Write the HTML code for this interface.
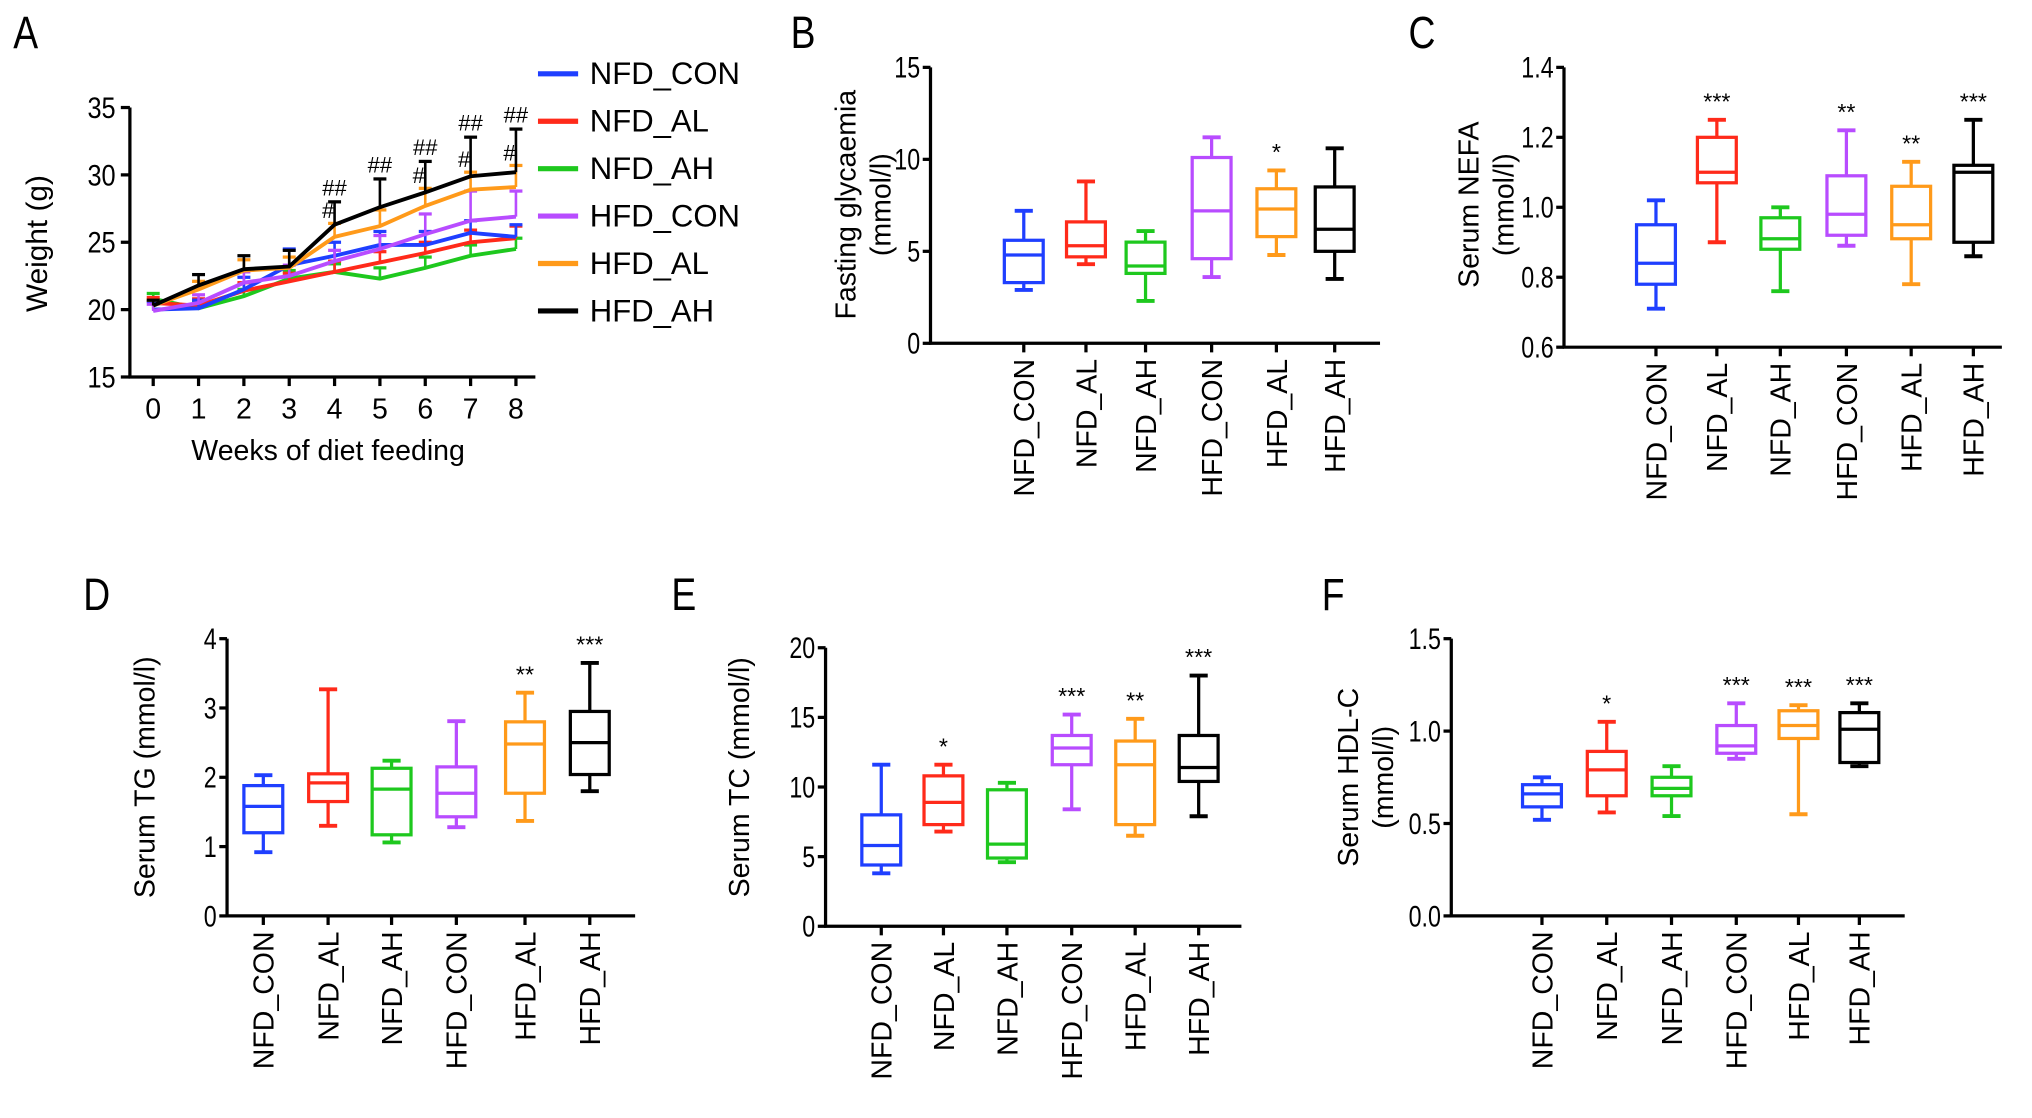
<!DOCTYPE html>
<html><head><meta charset="utf-8"><style>
html,body{margin:0;padding:0;background:#fff}
svg{display:block;font-family:"Liberation Sans",Arial,sans-serif}
</style></head><body>
<svg id="fig" width="2032" height="1118" viewBox="0 0 1568 863" xmlns="http://www.w3.org/2000/svg"></svg>
<script>
// ---------- Panel A data ----------
const weeks = [0,1,2,3,4,5,6,7,8];
const groupNames = ["NFD_CON","NFD_AL","NFD_AH","HFD_CON","HFD_AL","HFD_AH"];
const groupColors = ["#1f3fff","#ff2a1a","#1ec81e","#b84cff","#ff9a1a","#000000"];
const wNFD_CON = [20.0,20.1,21.5,23.3,24.0,24.8,24.8,25.7,25.4];
const wNFD_AL  = [20.5,20.3,21.4,22.1,22.8,23.5,24.2,25.0,25.3];
const wNFD_AH  = [20.8,20.1,21.0,22.3,22.8,22.3,23.1,24.0,24.5];
const wHFD_CON = [19.9,20.5,22.0,22.5,23.6,24.5,25.6,26.6,26.9];
const wHFD_AL  = [20.3,21.5,22.9,23.1,25.4,26.2,27.7,28.9,29.1];
const wHFD_AH  = [20.3,21.8,23.0,23.2,26.3,27.6,28.7,29.9,30.2];
const sdNFD_CON = [0.6,0.6,0.9,1.2,1.0,1.0,1.0,0.9,0.9];
const sdNFD_AL  = [0.4,0.5,0.6,0.6,0.8,0.8,0.8,0.9,0.9];
const sdNFD_AH  = [0.4,0.5,0.5,0.6,0.6,0.8,0.8,0.8,0.8];
const sdHFD_CON = [0.5,0.6,0.8,0.8,0.8,1.0,1.5,2.2,1.9];
const sdHFD_AL  = [0.4,0.6,0.8,0.8,1.0,1.2,1.3,1.3,1.6];
const sdHFD_AH  = [0.4,0.8,1.0,1.2,1.7,2.1,2.3,2.9,3.2];
const hashDouble = [4,5,6,7,8];
const hashSingle = [4,6,7,8];
const aTicks = [15,20,25,30,35];

// ---------- Box panels data: [min,q1,median,q3,max] ----------
const cats = ["NFD_CON","NFD_AL","NFD_AH","HFD_CON","HFD_AL","HFD_AH"];
const bBoxes = [[2.9,3.3,4.8,5.6,7.2],[4.3,4.7,5.3,6.6,8.8],[2.3,3.8,4.2,5.5,6.1],[3.6,4.6,7.2,10.1,11.2],[4.8,5.8,7.3,8.4,9.4],[3.5,5.0,6.2,8.5,10.6]];
const bStars = ["","","","","*",""];
const bTicks = ["0","5","10","15"];
const cBoxes = [[0.71,0.78,0.84,0.95,1.02],[0.90,1.07,1.10,1.20,1.25],[0.76,0.88,0.91,0.97,1.00],[0.89,0.92,0.98,1.09,1.22],[0.78,0.91,0.95,1.06,1.13],[0.86,0.90,1.10,1.12,1.25]];
const cStars = ["","***","","**","**","***"];
const cTicks = ["0.6","0.8","1.0","1.2","1.4"];
const dBoxes = [[0.92,1.2,1.58,1.88,2.03],[1.3,1.65,1.92,2.05,3.27],[1.06,1.17,1.83,2.13,2.24],[1.28,1.43,1.77,2.15,2.81],[1.37,1.77,2.48,2.8,3.22],[1.8,2.04,2.5,2.95,3.65]];
const dStars = ["","","","","**","***"];
const dTicks = ["0","1","2","3","4"];
const eBoxes = [[3.8,4.4,5.8,8.0,11.6],[6.8,7.3,8.9,10.8,11.6],[4.6,4.9,5.9,9.8,10.3],[8.4,11.6,12.8,13.7,15.2],[6.5,7.3,11.6,13.3,14.9],[7.9,10.4,11.4,13.7,18.0]];
const eStars = ["","*","","***","**","***"];
const eTicks = ["0","5","10","15","20"];
const fBoxes = [[0.52,0.59,0.66,0.71,0.75],[0.56,0.65,0.79,0.89,1.05],[0.54,0.65,0.69,0.75,0.81],[0.85,0.88,0.92,1.03,1.15],[0.55,0.96,1.03,1.11,1.14],[0.81,0.83,1.01,1.10,1.15]];
const fStars = ["","*","","***","***","***"];
const fTicks = ["0.0","0.5","1.0","1.5"];

const NS="http://www.w3.org/2000/svg";
const svg=document.getElementById('fig');
function mk(tag,attrs,parent,text){const e=document.createElementNS(NS,tag);for(const k in attrs)e.setAttribute(k,attrs[k]);if(text!==undefined)e.textContent=text;(parent||svg).appendChild(e);return e;}
function line(p,x1,y1,x2,y2,c,w){return mk('line',{x1,y1,x2,y2,stroke:c,'stroke-width':w||2.5},p);}

// ---------- Panel A ----------
(function(){
  const g=mk('g',{});  
  const x=w=>118+w*35, y=v=>239-(v-20)*10.4;
  const t=mk('text',{x:0,y:0,'font-size':32,transform:'translate(10,37) scale(0.9,1.1)'},g,'A');  
  line(g,100,y(35),100,y(15)+1,'#000',2.5); line(g,99,y(15),413,y(15),'#000',2.5);
  aTicks.forEach(v=>{line(g,93,y(v),100,y(v),'#000',2.5);const tt=mk('text',{x:0,y:0,'font-size':23,'text-anchor':'end',transform:`translate(89,${y(v)+8}) scale(0.85,1)`},g,v);});
  weeks.forEach(w=>{line(g,x(w),y(15),x(w),y(15)+7,'#000',2.5);const tt=mk('text',{x:x(w),y:323,'font-size':22,'text-anchor':'middle'},g,w);});
  const xt=mk('text',{x:253,y:355,'font-size':22,'text-anchor':'middle'},g,'Weeks of diet feeding');  
  const yt=mk('text',{x:0,y:0,'font-size':23,'text-anchor':'middle',transform:'translate(36,188) rotate(-90)'},g,'Weight (g)');  
  const series=[wNFD_CON,wNFD_AL,wNFD_AH,wHFD_CON,wHFD_AL,wHFD_AH];
  const sds=[sdNFD_CON,sdNFD_AL,sdNFD_AH,sdHFD_CON,sdHFD_AL,sdHFD_AH];
  [2,1,0,3,4,5].forEach(i=>{
    const c=groupColors[i];
    const sg=mk('g',{},g);  
    series[i].forEach((v,k)=>{const top=v+sds[i][k];line(sg,x(weeks[k]),y(v),x(weeks[k]),y(top),c,2);line(sg,x(weeks[k])-5,y(top),x(weeks[k])+5,y(top),c,2.5);});
    const pl=mk('polyline',{points:series[i].map((v,k)=>x(weeks[k])+','+y(v)).join(' '),fill:'none',stroke:c,'stroke-width':3},sg);
     
  });
  hashDouble.forEach(w=>{const k=weeks.indexOf(w);const top=wHFD_AH[k]+sdHFD_AH[k];const tt=mk('text',{x:x(w),y:y(top)-5,'font-size':17,'text-anchor':'middle'},g,'##');});
  hashSingle.forEach(w=>{const k=weeks.indexOf(w);const top=wHFD_AL[k]+sdHFD_AL[k];const tt=mk('text',{x:x(w)-5,y:y(top)-4,'font-size':17,'text-anchor':'middle'},g,'#');});
  groupNames.forEach((n,i)=>{const ly=57+i*36.6;const lg=mk('g',{},g);
    line(lg,415,ly,446,ly,groupColors[i],4);mk('text',{x:455,y:ly+8,'font-size':24},lg,n);});
})();

// ---------- Box panels ----------
function boxPanel(o){
  const g=mk('g',{});  
  const y=v=>o.y0-(v-o.vmin)/(o.vmax-o.vmin)*(o.y0-o.y1);
  const t=mk('text',{x:0,y:0,'font-size':32,transform:`translate(${o.lx},${o.ly}) scale(0.9,1.1)`},g,o.letter);  
  line(g,o.ax,o.y1,o.ax,o.y0+1,'#000',2.5); line(g,o.ax-1,o.y0,o.right,o.y0,'#000',2.5);
  o.ticks.forEach(s=>{const v=parseFloat(s);line(g,o.ax-6,y(v),o.ax,y(v),'#000',2.5);const tt=mk('text',{x:0,y:0,'font-size':23,'text-anchor':'end',transform:`translate(${o.ax-8},${y(v)+8}) scale(0.78,1)`},g,s);});
  o.titles.forEach((s,i)=>{const tt=mk('text',{x:0,y:0,'font-size':22,'text-anchor':'middle',transform:`translate(${o.tx+i*27},${o.ty}) rotate(-90)`},g,s);});
  cats.forEach((c,i)=>{
    const cx=o.xs[i], col=groupColors[i], b=o.boxes[i], hw=15;
    line(g,cx,o.y0,cx,o.y0+7,'#000',2.5);
    const tt=mk('text',{x:0,y:0,'font-size':22,'text-anchor':'end',transform:`translate(${cx+8},${o.y0+12}) rotate(-90)`},g,c);
    const bg=mk('g',{},g);  
    line(bg,cx,y(b[0]),cx,y(b[1]),col,2.5); line(bg,cx,y(b[3]),cx,y(b[4]),col,2.5);
    line(bg,cx-7,y(b[0]),cx+7,y(b[0]),col,3); line(bg,cx-7,y(b[4]),cx+7,y(b[4]),col,3);
    mk('rect',{x:cx-hw,y:y(b[3]),width:hw*2,height:y(b[1])-y(b[3]),fill:'none',stroke:col,'stroke-width':2.5},bg);
    line(bg,cx-hw,y(b[2]),cx+hw,y(b[2]),col,2.5);
    if(o.stars[i]){const st=mk('text',{x:cx,y:y(b[4])-8,'font-size':18,'text-anchor':'middle'},g,o.stars[i]);}
  });
}
boxPanel({name:'panel-b',letter:'B',lx:610,ly:37,ax:718,y0:265,y1:52,right:1065,vmin:0,vmax:15,ticks:bTicks,boxes:bBoxes,stars:bStars,xs:[790,838,884,935,985,1030],titles:['Fasting glycaemia','(mmol/l)'],tx:660,ty:158});
boxPanel({name:'panel-c',letter:'C',lx:1087,ly:37,ax:1207,y0:268,y1:52,right:1545,vmin:0.6,vmax:1.4,ticks:cTicks,boxes:cBoxes,stars:cStars,xs:[1278,1325,1374,1425,1475,1523],titles:['Serum NEFA','(mmol/l)'],tx:1141,ty:158});
boxPanel({name:'panel-d',letter:'D',lx:64,ly:471,ax:175,y0:707,y1:493,right:490,vmin:0,vmax:4,ticks:dTicks,boxes:dBoxes,stars:dStars,xs:[203,253,302,352,405,455],titles:['Serum TG (mmol/l)'],tx:119,ty:600});
boxPanel({name:'panel-e',letter:'E',lx:518,ly:471,ax:637,y0:715,y1:500,right:958,vmin:0,vmax:20,ticks:eTicks,boxes:eBoxes,stars:eStars,xs:[680,728,777,827,876,925],titles:['Serum TC (mmol/l)'],tx:578,ty:600});
boxPanel({name:'panel-f',letter:'F',lx:1020,ly:471,ax:1120,y0:707,y1:493,right:1470,vmin:0,vmax:1.5,ticks:fTicks,boxes:fBoxes,stars:fStars,xs:[1190,1240,1290,1340,1388,1435],titles:['Serum HDL-C','(mmol/l)'],tx:1048,ty:600});
</script>
</body></html>
